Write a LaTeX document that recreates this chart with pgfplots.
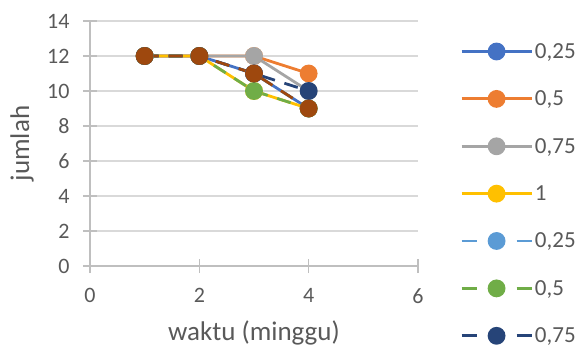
\documentclass[border=0pt]{standalone}
\usepackage{fontspec}
\setmainfont{Carlito}
\usepackage{pgfplots}
\pgfplotsset{compat=1.18}
\definecolor{cA}{HTML}{4472C4}
\definecolor{cB}{HTML}{ED7D31}
\definecolor{cC}{HTML}{A5A5A5}
\definecolor{cD}{HTML}{FFC000}
\definecolor{cE}{HTML}{5B9BD5}
\definecolor{cF}{HTML}{70AD47}
\definecolor{cG}{HTML}{264478}
\definecolor{cH}{HTML}{9E480E}
\definecolor{txtc}{HTML}{595959}
\definecolor{gridc}{HTML}{D9D9D9}
\definecolor{axc}{HTML}{BFBFBF}
\pgfplotsset{
  dashleg/.style={dash pattern=on 14bp off 10bp,
    legend image code/.code={%
      \draw[dash pattern=on 15bp off 40bp] (0bp,0bp) -- (70bp,0bp);
      \draw[only marks] plot coordinates {(35bp,0bp)};}},
}
\begin{document}
\begin{tikzpicture}
\path[use as bounding box] (0,0) rectangle (585bp,349bp);
\begin{axis}[
  at={(90bp,83bp)}, anchor=south west,
  scale only axis, width=328bp, height=245bp,
  xmin=0, xmax=6, ymin=0, ymax=14,
  xtick={0,2,4,6}, ytick={0,2,...,14},
  axis x line*=bottom, axis y line*=left,
  axis line style={draw=axc, line width=1.2bp, -},
  xmajorgrids=false, ymajorgrids=true,
  grid style={draw=gridc, line width=1.2bp},
  tick style={draw=axc, line width=1.2bp},
  tick align=center, major tick length=14bp,
  ticklabel style={font=\fontsize{22bp}{26bp}\selectfont, text=txtc},
  xticklabel style={yshift=-12bp},
  yticklabel style={xshift=-10bp},
  /pgf/number format/assume math mode=true,
  xlabel={waktu (minggu)}, ylabel={jumlah},
  label style={font=\fontsize{27bp}{32bp}\selectfont, text=txtc},
  xlabel style={at={(axis description cs:0.5,-0.273)}, anchor=center},
  ylabel style={at={(axis description cs:-0.207,0.5)}, anchor=center},
  every axis plot/.append style={line width=2.8bp, mark=*, mark size=7.5bp},
  legend style={at={(1.128,0.918)}, anchor=north west, draw=none, fill=none,
    font=\fontsize{23bp}{27bp}\selectfont, text=txtc,
    row sep=27bp, inner sep=0pt},
  legend cell align=left,
  legend image code/.code={\draw[mark repeat=2, mark phase=2] plot coordinates {(0bp,0bp) (35bp,0bp) (70bp,0bp)};},
]
\addplot[cA, mark options={solid, fill=cA}] coordinates {(1,12) (2,12) (3,11) (4,9)};
\addlegendentry{0,25}
\addplot[cB, mark options={solid, fill=cB}] coordinates {(1,12) (2,12) (3,12) (4,11)};
\addlegendentry{0,5}
\addplot[cC, mark options={solid, fill=cC}] coordinates {(1,12) (2,12) (3,12) (4,10)};
\addlegendentry{0,75}
\addplot[cD, mark options={solid, fill=cD}] coordinates {(1,12) (2,12) (3,10) (4,9)};
\addlegendentry{1}
\addplot[cE, dashleg, mark options={solid, fill=cE}] coordinates {(1,12) (2,12) (3,11) (4,9)};
\addlegendentry{0,25}
\addplot[cF, dashleg, mark options={solid, fill=cF}] coordinates {(1,12) (2,12) (3,10) (4,9)};
\addlegendentry{0,5}
\addplot[cG, dashleg, mark options={solid, fill=cG}] coordinates {(1,12) (2,12) (3,11) (4,10)};
\addlegendentry{0,75}
\addplot[cH, dashleg, mark options={solid, fill=cH}] coordinates {(1,12) (2,12) (3,11) (4,9)};
\addlegendentry{1}
\end{axis}
\end{tikzpicture}
\end{document}
